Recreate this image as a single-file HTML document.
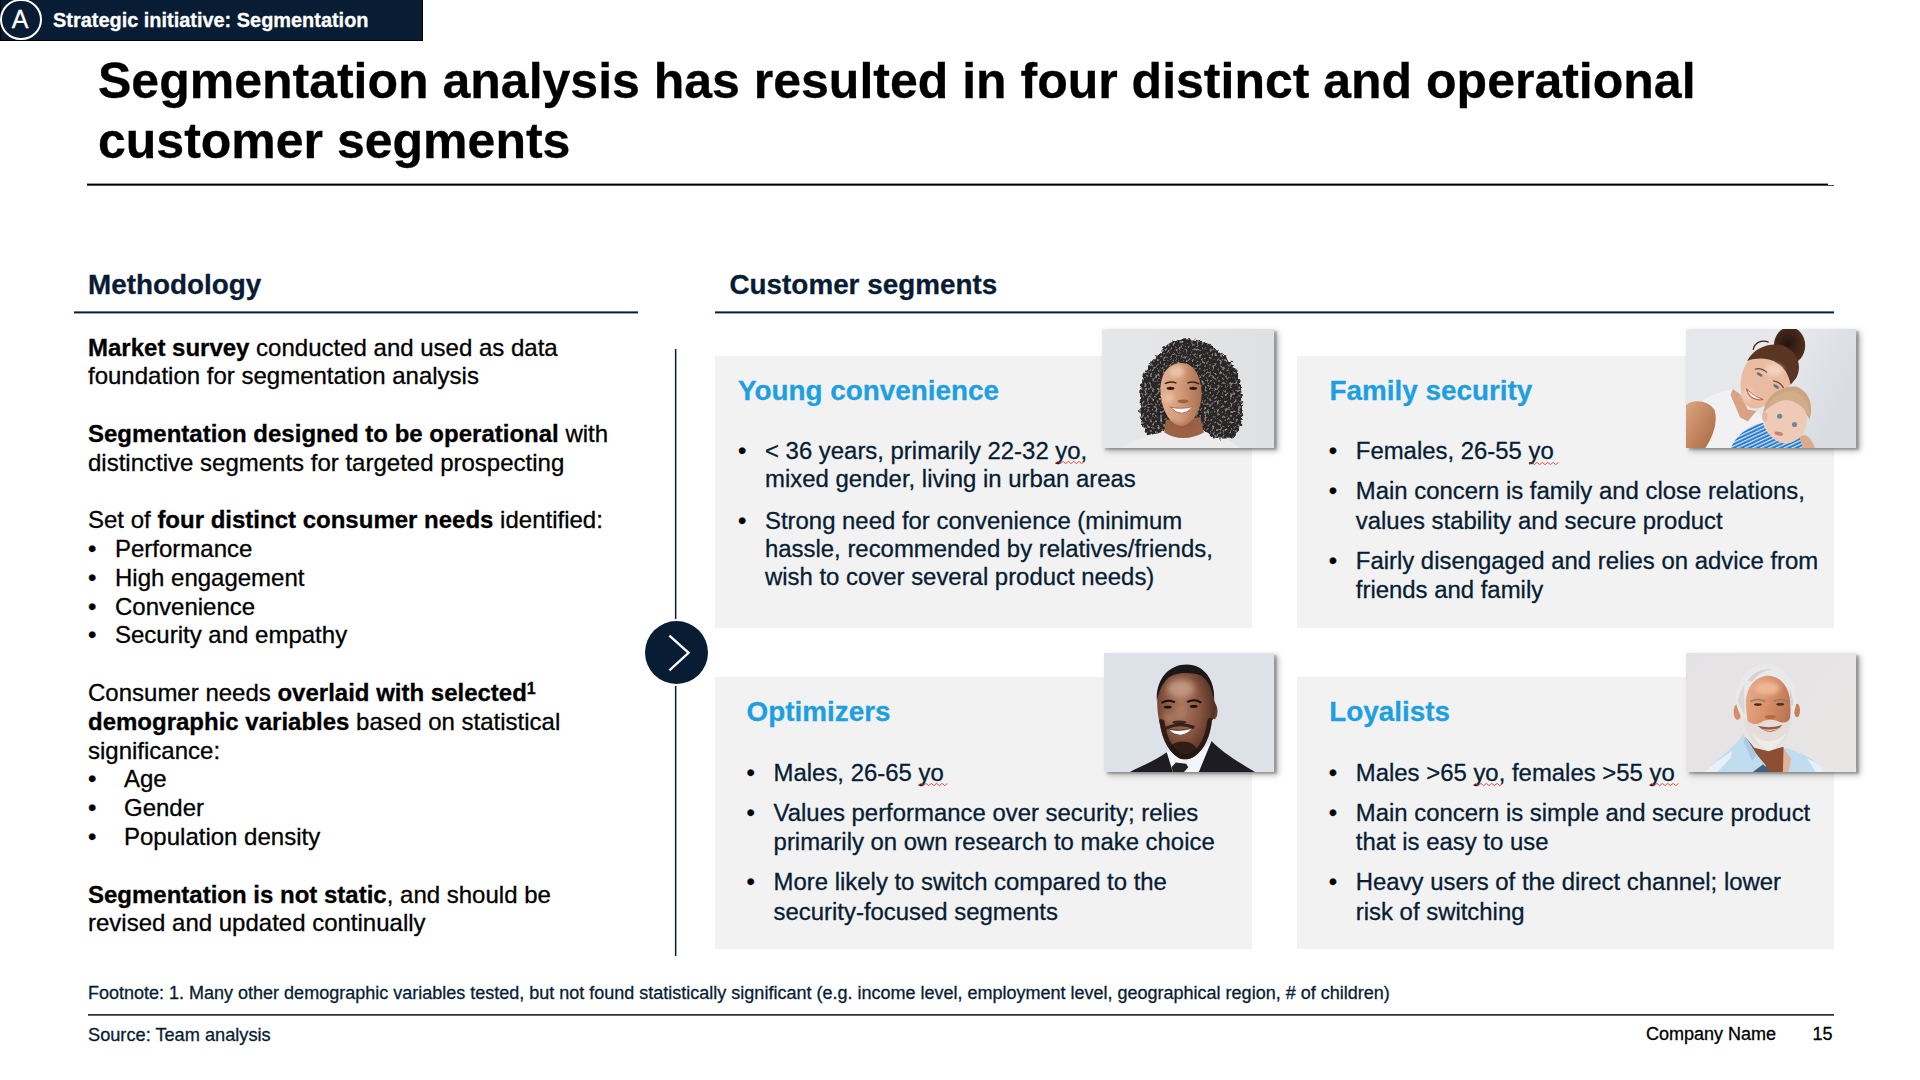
<!DOCTYPE html>
<html lang="en">
<head>
<meta charset="utf-8">
<title>Segmentation analysis</title>
<style>
*{box-sizing:border-box;margin:0;padding:0}
html,body{width:1920px;height:1080px;overflow:hidden;background:#fff}
body{position:relative;font-family:"Liberation Sans",Arial,Helvetica,sans-serif;color:#000;-webkit-font-smoothing:antialiased}
.abs{position:absolute;white-space:nowrap;-webkit-text-stroke:.3px currentColor}
.navy{color:#081d33}
#tab{left:0;top:0;width:423px;height:41px;background:#081d33;border:1px solid #000;border-top:none}
#tabc{left:.2px;top:-1px;width:41.4px;height:41.4px;border:2.4px solid #fff;border-radius:50%}
#taba{left:0;top:-1.2px;width:40.2px;text-align:center;font-size:25px;line-height:41px;color:#fff}
#tabt{left:53px;top:8px;font-size:19.93px;line-height:24px;font-weight:bold;color:#fff}
#title{left:98px;top:51.4px;font-size:50px;line-height:60px;font-weight:bold;color:#000}
.rule{position:absolute;height:2px;background:#081d33}
#r1{left:86.7px;top:183px;width:1741.4px;height:3px;background:linear-gradient(to bottom,rgba(0,0,0,0.4) 0px 1px,rgba(0,0,0,1) 1px 2px,rgba(0,0,0,0.7) 2px 3px)}
#r2{left:73.6px;top:311px;width:564.8px;height:3px;background:linear-gradient(to bottom,rgba(8,29,51,0.6) 0px 1px,rgba(8,29,51,1) 1px 2px,rgba(8,29,51,0.4) 2px 3px)}
#r3{left:715.1px;top:311px;width:1119.3px;height:3px;background:linear-gradient(to bottom,rgba(8,29,51,0.6) 0px 1px,rgba(8,29,51,1) 1px 2px,rgba(8,29,51,0.4) 2px 3px)}
#r4{left:88px;top:1014px;width:1745.6px;height:2px;background:linear-gradient(to bottom,rgba(0,0,0,0.8) 0px 1px,rgba(0,0,0,0.6) 1px 2px)}
.sec{font-size:27.85px;line-height:34px;font-weight:bold;color:#081d33}
#h-meth{left:88px;top:267.8px}
#h-cust{left:729.5px;top:267.8px}
.body{font-size:24px;line-height:28.8px;color:#000}
.body b{font-weight:bold}
.bl{display:inline-block}
.bl.a{width:27px}
.bl.b{width:36px}
.body sup{font-size:16px;line-height:0;vertical-align:baseline;position:relative;top:-7.5px}
#vline{position:absolute;left:674px;top:349px;width:3px;height:607px;background:linear-gradient(to right,rgba(8,29,51,.1) 0 1px,#081d33 1px 2px,rgba(8,29,51,.4) 2px 3px)}
#arrow{position:absolute;left:645px;top:620.8px;width:63.3px;height:63.3px;border-radius:50%;background:#081d33;box-shadow:0 0 0 2px #fff}
#arrow svg{position:absolute;left:0;top:0}
.card{position:absolute;background:#f2f2f2;width:537px;height:271.5px}
.ch{font-size:27.85px;line-height:34px;font-weight:bold;color:#1f9fe0}
.ct{font-size:23.92px;line-height:29.6px;color:#081d33}
.ct.t1{line-height:28.3px}
.bu{display:inline-block;width:27px;color:#000}
.sq{position:relative}
.sqg{position:absolute;left:0;top:24.6px;overflow:visible}
.photo{position:absolute;box-shadow:3px 2px 1.5px rgba(0,0,0,.2),3.5px 3px 6px rgba(0,0,0,.3);overflow:hidden}
.photo svg{display:block}
.foot{font-size:18px;line-height:22px;color:#081d33}
</style>
</head>
<body>

<!-- top tab -->
<div class="abs" id="tab"></div>
<div class="abs" id="tabc"></div>
<div class="abs" id="taba">A</div>
<div class="abs" id="tabt">Strategic initiative: Segmentation</div>

<!-- title -->
<div class="abs" id="title">Segmentation analysis has resulted in four distinct and operational<br>customer segments</div>
<div class="rule" id="r1"></div>
<div class="rule" id="r1t" style="left:1828px;top:185px;width:5.7px;height:1px;background:rgba(0,0,0,.7)"></div>

<!-- section headers -->
<div class="abs sec" id="h-meth">Methodology</div>
<div class="rule" id="r2"></div>
<div class="abs sec" id="h-cust">Customer segments</div>
<div class="rule" id="r3"></div>

<!-- methodology body -->
<div class="abs body" id="m1" style="left:88px;top:333.5px"><b>Market survey</b> conducted and used as data<br>foundation for segmentation analysis<br><br><b>Segmentation designed to be operational</b> with<br>distinctive segments for targeted prospecting<br><br>Set of <b>four distinct consumer needs</b> identified:<br><span class="bl a">•</span>Performance<br><span class="bl a">•</span>High engagement<br><span class="bl a">•</span>Convenience<br><span class="bl a">•</span>Security and empathy<br><br>Consumer needs <b>overlaid with selected<sup>1</sup></b><br><b>demographic variables</b> based on statistical<br>significance:<br><span class="bl b">•</span>Age<br><span class="bl b">•</span>Gender<br><span class="bl b">•</span>Population density<br><br><b>Segmentation is not static</b>, and should be<br>revised and updated continually</div>

<!-- divider + arrow -->
<div id="vline"></div>
<div id="arrow"><svg width="63.3" height="63.3" viewBox="0 0 63.3 63.3"><path d="M24.4 14.6 L43.6 31.8 L24.4 49.3" fill="none" stroke="#fff" stroke-width="2.3" stroke-linejoin="miter"/></svg></div>

<!-- cards -->
<div class="card" id="c1" style="left:715px;top:356px"></div>
<div class="card" id="c2" style="left:1297px;top:356px"></div>
<div class="card" id="c3" style="left:715px;top:677px"></div>
<div class="card" id="c4" style="left:1297px;top:677px"></div>

<!-- card 1 -->
<div class="abs ch" id="c1h" style="left:738px;top:373.8px">Young convenience</div>
<div class="abs ct t1" id="c1p1" style="left:738px;top:436.85px"><span class="bu">•</span>&lt; 36 years, primarily 22-32 <span class="sq">yo<svg class="sqg" width="30" height="3" viewBox="0 0 30 3"><polyline points="0.0,2.6 2.67,0.4 5.35,2.6 8.02,0.4 10.69,2.6 13.36,0.4 16.04,2.6 18.71,0.4 21.38,2.6 24.05,0.4 26.73,2.6 29.4,0.4" fill="none" stroke="#e8261c" stroke-width=".8" stroke-linejoin="round"/></svg></span>,<br><span class="bu"></span>mixed gender, living in urban areas</div>
<div class="abs ct t1" id="c1p2" style="left:738px;top:506.85px"><span class="bu">•</span>Strong need for convenience (minimum<br><span class="bu"></span>hassle, recommended by relatives/friends,<br><span class="bu"></span>wish to cover several product needs)</div>

<!-- card 2 -->
<div class="abs ch" id="c2h" style="left:1329.6px;top:373.8px">Family security</div>
<div class="abs ct" id="c2p1" style="left:1328.8px;top:436.2px"><span class="bu">•</span>Females, 26-55 <span class="sq">yo<svg class="sqg" width="30" height="3" viewBox="0 0 30 3"><polyline points="0.0,2.6 2.67,0.4 5.35,2.6 8.02,0.4 10.69,2.6 13.36,0.4 16.04,2.6 18.71,0.4 21.38,2.6 24.05,0.4 26.73,2.6 29.4,0.4" fill="none" stroke="#e8261c" stroke-width=".8" stroke-linejoin="round"/></svg></span></div>
<div class="abs ct" id="c2p2" style="left:1328.8px;top:476.2px"><span class="bu">•</span>Main concern is family and close relations,<br><span class="bu"></span>values stability and secure product</div>
<div class="abs ct" id="c2p3" style="left:1328.8px;top:545.8px"><span class="bu">•</span>Fairly disengaged and relies on advice from<br><span class="bu"></span>friends and family</div>

<!-- card 3 -->
<div class="abs ch" id="c3h" style="left:746.6px;top:694.8px">Optimizers</div>
<div class="abs ct" id="c3p1" style="left:746.6px;top:757.8px"><span class="bu">•</span>Males, 26-65 <span class="sq">yo<svg class="sqg" width="30" height="3" viewBox="0 0 30 3"><polyline points="0.0,2.6 2.67,0.4 5.35,2.6 8.02,0.4 10.69,2.6 13.36,0.4 16.04,2.6 18.71,0.4 21.38,2.6 24.05,0.4 26.73,2.6 29.4,0.4" fill="none" stroke="#e8261c" stroke-width=".8" stroke-linejoin="round"/></svg></span></div>
<div class="abs ct" id="c3p2" style="left:746.6px;top:797.8px"><span class="bu">•</span>Values performance over security; relies<br><span class="bu"></span>primarily on own research to make choice</div>
<div class="abs ct" id="c3p3" style="left:746.6px;top:867.4px"><span class="bu">•</span>More likely to switch compared to the<br><span class="bu"></span>security-focused segments</div>

<!-- card 4 -->
<div class="abs ch" id="c4h" style="left:1329.3px;top:694.8px">Loyalists</div>
<div class="abs ct" id="c4p1" style="left:1328.8px;top:757.8px"><span class="bu">•</span>Males &gt;65 <span class="sq">yo<svg class="sqg" width="30" height="3" viewBox="0 0 30 3"><polyline points="0.0,2.6 2.67,0.4 5.35,2.6 8.02,0.4 10.69,2.6 13.36,0.4 16.04,2.6 18.71,0.4 21.38,2.6 24.05,0.4 26.73,2.6 29.4,0.4" fill="none" stroke="#e8261c" stroke-width=".8" stroke-linejoin="round"/></svg></span>, females &gt;55 <span class="sq">yo<svg class="sqg" width="30" height="3" viewBox="0 0 30 3"><polyline points="0.0,2.6 2.67,0.4 5.35,2.6 8.02,0.4 10.69,2.6 13.36,0.4 16.04,2.6 18.71,0.4 21.38,2.6 24.05,0.4 26.73,2.6 29.4,0.4" fill="none" stroke="#e8261c" stroke-width=".8" stroke-linejoin="round"/></svg></span></div>
<div class="abs ct" id="c4p2" style="left:1328.8px;top:797.8px"><span class="bu">•</span>Main concern is simple and secure product<br><span class="bu"></span>that is easy to use</div>
<div class="abs ct" id="c4p3" style="left:1328.8px;top:867.4px"><span class="bu">•</span>Heavy users of the direct channel; lower<br><span class="bu"></span>risk of switching</div>

<!-- photos -->
<div class="photo" id="ph1" style="left:1102px;top:329px;width:172px;height:119px;background:#e2e3e5"><svg width="172" height="119" viewBox="0 0 172 119">
<defs>
<linearGradient id="p1bg" x1="0" x2="1" y1="0" y2="0"><stop offset="0" stop-color="#e6e7e9"/><stop offset="1" stop-color="#dfe0e2"/></linearGradient>
<linearGradient id="p1sk" x1="0" x2="1" y1="0" y2="0"><stop offset="0" stop-color="#e2ad8c"/><stop offset=".45" stop-color="#d49d7c"/><stop offset="1" stop-color="#a9714f"/></linearGradient>
<filter id="p1curl" x="-10%" y="-10%" width="120%" height="120%"><feTurbulence type="fractalNoise" baseFrequency="0.035" numOctaves="2" seed="4" result="n"/><feDisplacementMap in="SourceGraphic" in2="n" scale="46" xChannelSelector="R" yChannelSelector="G" result="d"/><feTurbulence type="fractalNoise" baseFrequency="0.05" numOctaves="2" seed="9" result="t"/><feColorMatrix in="t" type="matrix" values="0 0 0 0 0.4  0 0 0 0 0.38  0 0 0 0 0.38  3 0 0 0 -1.62" result="tc"/><feComposite in="tc" in2="d" operator="in" result="tx"/><feMerge><feMergeNode in="d"/><feMergeNode in="tx"/></feMerge></filter>
<filter id="p1b" x="-50%" y="-50%" width="200%" height="200%"><feGaussianBlur stdDeviation="18"/></filter>
</defs>
<rect width="172" height="119" fill="url(#p1bg)"/>
<g transform="scale(0.129618) translate(-93,-70)">
<path filter="url(#p1curl)" d="M760,150 C650,145 565,195 548,255 C470,305 420,385 408,455 C375,530 395,590 382,650 C372,730 400,810 428,880 C480,895 540,875 585,845 L880,845 C900,895 940,920 1000,918 C1060,915 1105,905 1128,895 C1165,840 1182,760 1172,690 C1182,610 1165,520 1152,455 C1125,365 1075,295 998,252 C950,188 860,150 760,150 Z" fill="#2a2727"/>
<path d="M585,770 L570,890 C650,945 800,935 880,870 L850,750 Z" fill="#9c6244"/>
<path d="M245,990 C300,925 450,900 565,862 Q715,960 890,862 C1000,895 1100,930 1155,990 Z" fill="#ececec"/>
<path d="M545,560 C538,440 590,338 700,332 C800,332 852,420 862,560 C864,680 800,812 705,818 C612,812 550,680 545,560 Z" fill="url(#p1sk)"/>
<ellipse cx="670" cy="400" rx="60" ry="45" fill="#f3cdb4" opacity=".75" filter="url(#p1b)"/>
<ellipse cx="610" cy="600" rx="45" ry="40" fill="#f0c4a8" opacity=".7" filter="url(#p1b)"/>
<path d="M578,492 Q620,468 668,488" stroke="#3a2418" stroke-width="11" fill="none"/>
<path d="M752,488 Q798,468 842,494" stroke="#3a2418" stroke-width="11" fill="none"/>
<ellipse cx="622" cy="528" rx="30" ry="12" fill="#2c1a14"/>
<ellipse cx="797" cy="528" rx="30" ry="12" fill="#2c1a14"/>
<ellipse cx="718" cy="628" rx="42" ry="14" fill="#8f5538" opacity=".8"/>
<path d="M618,672 Q705,694 796,668 Q712,770 618,672 Z" fill="#fff" stroke="#b0604f" stroke-width="7"/>
<path d="M640,780 Q705,830 790,770 L800,815 Q705,850 620,800 Z" fill="#8f5538" opacity=".55" filter="url(#p1b)"/>
<path filter="url(#p1curl)" d="M880,760 C900,860 940,915 1000,915 C1060,912 1105,905 1128,895 C1150,850 1160,800 1165,760 Z" fill="#2a2727"/>
</g>
</svg></div>
<div class="photo" id="ph2" style="left:1686px;top:329px;width:170px;height:119px;background:#e3e5e8"><svg width="170" height="119" viewBox="0 0 170 119">
<defs>
<linearGradient id="p2bg" x1="0" x2="1" y1="0" y2=".35"><stop offset="0" stop-color="#e5e7eb"/><stop offset=".6" stop-color="#e6e8ec"/><stop offset="1" stop-color="#d9dce1"/></linearGradient>
<linearGradient id="p2arm" x1="0" x2="1" y1="0" y2="1"><stop offset="0" stop-color="#dca582"/><stop offset="1" stop-color="#a8683f"/></linearGradient>
<radialGradient id="p2bun" cx=".45" cy=".45" r=".6"><stop offset="0" stop-color="#25140f"/><stop offset="1" stop-color="#55301f"/></radialGradient>
<pattern id="p2st" width="30" height="30" patternUnits="userSpaceOnUse" patternTransform="rotate(-25)"><rect width="30" height="30" fill="#2b7bd0"/><rect width="30" height="11" fill="#d4e6f7"/></pattern>
<filter id="p2b" x="-50%" y="-50%" width="200%" height="200%"><feGaussianBlur stdDeviation="22"/></filter>
<filter id="p2s"><feGaussianBlur stdDeviation="3"/></filter>
</defs>
<rect width="170" height="119" fill="url(#p2bg)"/>
<g transform="scale(0.110175)" filter="url(#p2s)">
<path d="M150,650 C250,585 350,560 425,545 L500,790 L640,750 L740,830 L560,900 L420,1085 L180,1085 L250,800 Z" fill="#f1f1f3"/>
<path d="M425,545 L500,600 L560,730 L640,745 L560,840 L490,800 L405,600 Z" fill="#d9a283"/>
<path d="M0,690 C60,635 205,640 262,742 C292,860 232,1000 172,1085 L0,1085 Z" fill="url(#p2arm)"/>
<ellipse cx="940" cy="150" rx="142" ry="168" fill="url(#p2bun)"/>
<path d="M565,285 C500,380 470,520 520,650 C560,732 640,742 720,692 C800,642 900,562 952,500 C932,400 882,330 800,290 C720,258 640,258 565,285 Z" fill="#e9bba0"/>
<path d="M555,290 C615,172 760,118 882,150 C1002,200 1062,322 1002,442 L950,505 C930,402 880,332 800,292 C720,260 640,262 555,290 Z" fill="#5a3424"/>
<path d="M610,190 C620,120 690,95 750,120" stroke="#3d2218" stroke-width="12" fill="none"/>
<ellipse cx="800" cy="370" rx="80" ry="50" fill="#f7dccb" opacity=".8" filter="url(#p2b)"/>
<ellipse cx="560" cy="600" rx="50" ry="60" fill="#f7dccb" opacity=".6" filter="url(#p2b)"/>
<path d="M625,365 Q680,345 735,395" stroke="#7a4a36" stroke-width="11" fill="none"/>
<path d="M790,470 Q850,475 885,535" stroke="#7a4a36" stroke-width="11" fill="none"/>
<ellipse cx="668" cy="412" rx="30" ry="13" fill="#66727c" transform="rotate(28 668 412)"/>
<ellipse cx="818" cy="522" rx="30" ry="13" fill="#66727c" transform="rotate(35 818 522)"/>
<path d="M548,540 Q575,660 700,640 Q610,610 548,540 Z" fill="#fff" stroke="#c0695a" stroke-width="10"/>
<path d="M700,765 C720,602 860,512 1000,522 C1112,560 1162,682 1122,822 C1080,742 1020,662 940,632 C860,622 760,682 700,765 Z" fill="#c9a580"/>
<ellipse cx="905" cy="835" rx="190" ry="215" fill="#eecab7" transform="rotate(12 905 835)"/>
<path d="M712,760 C740,640 850,560 980,565 C1070,590 1120,680 1118,790 C1060,700 990,650 910,645 C830,650 760,700 712,760 Z" fill="#d2ad89"/>
<ellipse cx="715" cy="795" rx="24" ry="46" fill="#e2b7a0"/>
<circle cx="850" cy="792" r="23" fill="#6f8795"/>
<circle cx="985" cy="866" r="23" fill="#6f8795"/>
<ellipse cx="842" cy="950" rx="40" ry="17" fill="#c98078" transform="rotate(14 842 950)"/>
<path d="M1030,985 C1085,920 1142,1000 1172,1085 L1060,1085 Z" fill="#ddaa8c"/>
<path d="M408,1085 C440,980 560,880 700,850 C722,942 800,1022 900,1042 C960,1042 1010,1002 1032,985 L1062,1085 Z" fill="url(#p2st)"/>
</g>
</svg></div>
<div class="photo" id="ph3" style="left:1104px;top:653px;width:170px;height:119px;background:#dde2e8"><svg width="170" height="119" viewBox="0 0 170 119">
<defs>
<radialGradient id="p3sk" cx=".42" cy=".45" r=".6"><stop offset="0" stop-color="#ab7860"/><stop offset=".55" stop-color="#86533e"/><stop offset="1" stop-color="#4a2b22"/></radialGradient>
<filter id="p3b" x="-50%" y="-50%" width="200%" height="200%"><feGaussianBlur stdDeviation="24"/></filter>
<filter id="p3s"><feGaussianBlur stdDeviation="2"/></filter>
<clipPath id="p3hc"><path d="M520,420 C520,260 620,165 742,165 C872,165 962,270 956,432 C980,470 974,545 940,592 C930,700 885,815 805,868 C770,892 715,898 685,880 C615,838 560,750 540,622 C525,560 515,480 520,420 Z"/></clipPath>
</defs>
<rect width="170" height="119" fill="#dde2e9"/>
<g transform="scale(0.129618) translate(-108,-70)" filter="url(#p3s)">
<path d="M590,832 L608,992 L842,992 L940,748 L880,800 L740,905 L622,832 Z" fill="#f4f5f8"/>
<path d="M300,992 C400,940 520,890 592,835 L640,992 Z" fill="#1c1c21"/>
<path d="M838,992 L938,748 C1000,820 1150,915 1280,992 Z" fill="#1c1c21"/>
<path d="M662,915 L742,925 L758,952 L722,992 L640,992 L630,950 Z" fill="#222226"/>
<ellipse cx="958" cy="520" rx="26" ry="62" fill="#6b3f30"/>
<path d="M520,420 C520,260 620,165 742,165 C872,165 962,270 956,432 C980,470 974,545 940,592 C930,700 885,815 805,868 C770,892 715,898 685,880 C615,838 560,750 540,622 C525,560 515,480 520,420 Z" fill="url(#p3sk)"/>
<path d="M516,440 C506,260 618,158 746,158 C882,158 968,280 958,445 C945,345 905,272 852,242 C782,216 662,216 602,262 C552,312 530,372 516,440 Z" fill="#1b1717"/>
<ellipse cx="700" cy="345" rx="105" ry="70" fill="#c9a08b" opacity=".85" filter="url(#p3b)"/>
<ellipse cx="612" cy="575" rx="45" ry="40" fill="#b98a74" opacity=".7" filter="url(#p3b)"/>
<ellipse cx="695" cy="545" rx="28" ry="50" fill="#b98a74" opacity=".6" filter="url(#p3b)"/>
<g clip-path="url(#p3hc)"><path d="M548,610 C566,745 625,842 690,872 C720,888 770,882 802,860 C880,808 920,700 934,600" stroke="#21130e" stroke-width="58" fill="none" opacity=".82" stroke-linecap="round"/>
<path d="M585,650 Q695,600 805,645" stroke="#21130e" stroke-width="24" fill="none" opacity=".8"/>
<ellipse cx="715" cy="815" rx="105" ry="62" fill="#21130e" opacity=".8"/></g>
<path d="M552,455 Q600,425 655,450" stroke="#1a0f0c" stroke-width="16" fill="none"/>
<path d="M750,448 Q805,420 858,452" stroke="#1a0f0c" stroke-width="16" fill="none"/>
<ellipse cx="600" cy="488" rx="30" ry="11" fill="#180d0a"/>
<ellipse cx="800" cy="482" rx="30" ry="11" fill="#180d0a"/>
<ellipse cx="690" cy="605" rx="55" ry="14" fill="#2a1610" opacity=".8"/>
<path d="M595,655 Q690,682 795,648 Q702,760 595,655 Z" fill="#fff" stroke="#3a1f18" stroke-width="6"/>
</g>
</svg></div>
<div class="photo" id="ph4" style="left:1686px;top:653px;width:170px;height:119px;background:#e4e2e3"><svg width="170" height="119" viewBox="0 0 170 119">
<defs>
<linearGradient id="p4bg" x1="0" x2="1" y1="0" y2=".6"><stop offset="0" stop-color="#e4e2e4"/><stop offset="1" stop-color="#e8e5e5"/></linearGradient>
<linearGradient id="p4sk" x1="0" x2="1" y1="0" y2=".5"><stop offset="0" stop-color="#e8ae8c"/><stop offset=".55" stop-color="#d98f69"/><stop offset="1" stop-color="#b87450"/></linearGradient>
<filter id="p4b" x="-50%" y="-50%" width="200%" height="200%"><feGaussianBlur stdDeviation="20"/></filter>
<filter id="p4s"><feGaussianBlur stdDeviation="3.5"/></filter>
</defs>
<rect width="170" height="119" fill="url(#p4bg)"/>
<g transform="scale(0.110175)" filter="url(#p4s)">
<path d="M535,755 L620,860 L750,892 L882,850 L905,905 L885,1085 L715,1085 L640,925 Z" fill="#8c5030"/>
<path d="M165,1085 C250,980 400,900 522,738 L642,922 L725,1022 L702,1085 Z" fill="#c0dcef"/>
<path d="M165,1085 C230,1010 330,950 420,890 L400,960 L280,1085 Z" fill="#e6f0f8"/>
<path d="M878,1085 L905,858 C1000,900 1182,942 1265,1085 Z" fill="#c0dcef"/>
<path d="M1100,960 C1180,980 1240,1030 1265,1085 L1180,1085 Z" fill="#e6f0f8"/>
<path d="M600,1085 L700,1010 L770,1085 Z" fill="#42607f"/>
<path d="M885,860 L955,960 L930,1085 L880,1085 Z" fill="#e0b59d"/>
<path d="M540,760 L640,925 L600,980 L520,800 Z" fill="#a9cbe3"/>
<ellipse cx="468" cy="535" rx="36" ry="72" fill="#d48f6a"/>
<ellipse cx="1008" cy="522" rx="27" ry="62" fill="#c8805a"/>
<path d="M452,450 C440,270 560,105 725,100 C890,105 1005,260 1000,455 C985,540 965,600 950,640 L530,640 C500,580 470,520 452,450 Z" fill="#eae9ea"/>
<path d="M545,480 C535,340 610,215 745,205 C880,215 950,340 948,480 C955,580 935,670 900,740 C850,830 800,860 750,862 C690,860 620,800 580,700 C555,630 548,550 545,480 Z" fill="url(#p4sk)"/>
<path d="M560,250 C620,170 700,140 780,145 C700,165 640,200 600,260 Z" fill="#d4d2d3"/>
<path d="M930,300 C960,360 975,420 975,480 L950,470 C950,400 945,350 930,300 Z" fill="#d4d2d3"/>
<path d="M470,440 C480,380 500,330 530,290 C520,380 540,450 530,560 Z" fill="#d9d6d6"/>
<ellipse cx="740" cy="320" rx="110" ry="60" fill="#f3c3a5" opacity=".75" filter="url(#p4b)"/>
<path d="M518,560 C520,700 600,842 750,882 C882,852 952,722 962,560 C940,622 900,642 850,626 C800,600 720,600 680,630 C620,662 560,640 518,560 Z" fill="#e4ddd9"/>
<path d="M600,720 C640,820 700,870 750,882 C820,865 880,800 915,720 C860,780 800,800 750,800 C700,800 650,780 600,720 Z" fill="#efebe8"/>
<path d="M650,660 Q760,690 875,652 Q775,775 650,660 Z" fill="#9c543c"/>
<path d="M690,690 Q765,706 845,684 Q768,730 690,690 Z" fill="#f0dfd4"/>
<path d="M585,440 Q650,405 720,440" stroke="#9a7a6a" stroke-width="14" fill="none"/>
<path d="M795,438 Q860,405 925,442" stroke="#9a7a6a" stroke-width="14" fill="none"/>
<ellipse cx="652" cy="468" rx="36" ry="12" fill="#4a2e22"/>
<ellipse cx="855" cy="466" rx="36" ry="12" fill="#4a2e22"/>
<ellipse cx="765" cy="580" rx="52" ry="18" fill="#aa6340" opacity=".8"/>
</g>
</svg></div>

<!-- footer -->
<div class="abs foot" id="fn" style="left:88px;top:982.3px">Footnote: 1. Many other demographic variables tested, but not found statistically significant (e.g. income level, employment level, geographical region, # of children)</div>
<div class="rule" id="r4"></div>
<div class="abs foot" id="src" style="left:88px;top:1024.3px;font-size:18.2px">Source: Team analysis</div>
<div class="abs foot" id="co" style="left:1646px;top:1023.3px;color:#000">Company Name</div>
<div class="abs foot" id="pg" style="left:1812.6px;top:1023.3px;color:#000">15</div>

</body>
</html>
